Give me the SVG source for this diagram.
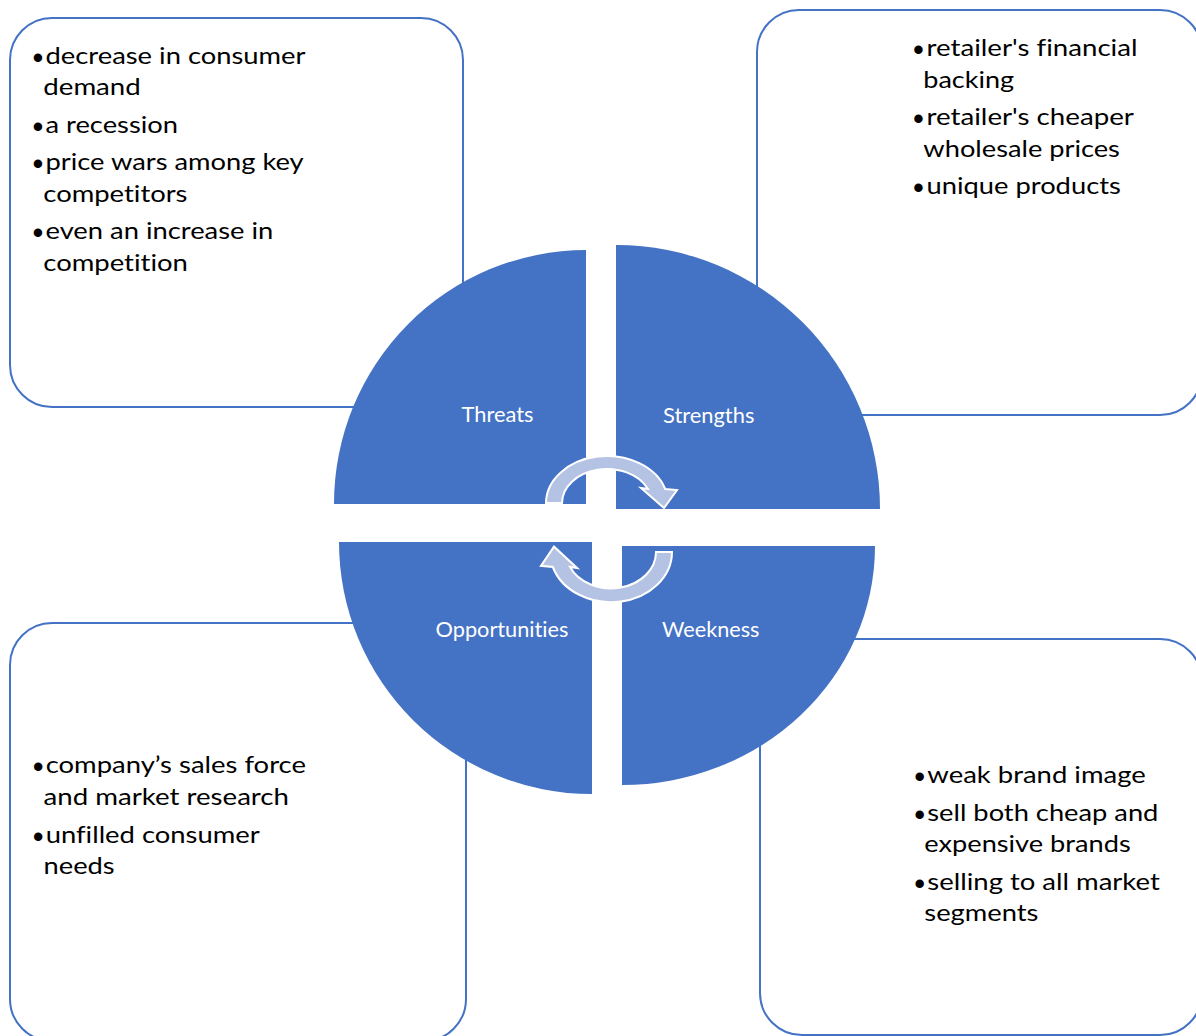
<svg xmlns="http://www.w3.org/2000/svg" width="1196" height="1036" viewBox="0 0 1196 1036">
  <style>
    .box { fill: #ffffff; stroke: #4472C4; stroke-width: 2; }
    .pie { fill: #4472C4; }
    .label { font-family: Lato, "Open Sans", sans-serif; font-size: 20.5px; fill: #ffffff; font-variant-ligatures: none; }
    .item { font-family: Lato, "Open Sans", sans-serif; font-size: 24px; fill: #000000; font-variant-ligatures: none; }
    .dot { font-family: "Liberation Sans", Arial, sans-serif; font-size: 31px; fill: #000000; text-anchor: middle; }
    .cycle { fill: #B4C2E3; stroke: #ffffff; stroke-width: 2; stroke-linejoin: miter; }
  </style>
  <defs>
    <!-- half-ring arrow, centred on its own ellipse -->
    <path id="cycle-arrow" d="M -61 0 A 61 47 0 0 1 58.2 -14 L 70 -13 L 57 5 L 34 -15 L 41 -14 A 45 34 0 0 0 -45 0 Z"/>
  </defs>

  <!-- detail panels -->
  <g id="box-threats">
    <rect class="box" x="10" y="18" width="453" height="389" rx="42"/>
    <text class="dot" x="38" y="67.5">•</text>
    <text class="item" x="45.5" y="63.5" textLength="260" lengthAdjust="spacingAndGlyphs">decrease in consumer</text>
    <text class="item" x="43.3" y="95" textLength="97.5" lengthAdjust="spacingAndGlyphs">demand</text>
    <text class="dot" x="38" y="136.5">•</text>
    <text class="item" x="45.5" y="132.5" textLength="132.5" lengthAdjust="spacingAndGlyphs">a recession</text>
    <text class="dot" x="38" y="174">•</text>
    <text class="item" x="45.5" y="170" textLength="258.2" lengthAdjust="spacingAndGlyphs">price wars among key</text>
    <text class="item" x="43.3" y="201.5" textLength="144.2" lengthAdjust="spacingAndGlyphs">competitors</text>
    <text class="dot" x="38" y="243">•</text>
    <text class="item" x="45.5" y="239" textLength="227.8" lengthAdjust="spacingAndGlyphs">even an increase in</text>
    <text class="item" x="43.3" y="270.5" textLength="144.6" lengthAdjust="spacingAndGlyphs">competition</text>
  </g>

  <g id="box-strengths">
    <rect class="box" x="757" y="10" width="445" height="405" rx="42"/>
    <text class="dot" x="918.5" y="60">•</text>
    <text class="item" x="926.5" y="56" textLength="211" lengthAdjust="spacingAndGlyphs">retailer's financial</text>
    <text class="item" x="923.3" y="87.5" textLength="90.7" lengthAdjust="spacingAndGlyphs">backing</text>
    <text class="dot" x="918.5" y="129">•</text>
    <text class="item" x="926.5" y="125" textLength="207.4" lengthAdjust="spacingAndGlyphs">retailer's cheaper</text>
    <text class="item" x="923.3" y="156.5" textLength="196.6" lengthAdjust="spacingAndGlyphs">wholesale prices</text>
    <text class="dot" x="918.5" y="198">•</text>
    <text class="item" x="926.5" y="194" textLength="194.3" lengthAdjust="spacingAndGlyphs">unique products</text>
  </g>

  <g id="box-opportunities">
    <rect class="box" x="10" y="623" width="456" height="418" rx="42"/>
    <text class="dot" x="38.2" y="777.3">•</text>
    <text class="item" x="45.7" y="773.3" textLength="260.3" lengthAdjust="spacingAndGlyphs">company’s sales force</text>
    <text class="item" x="43.5" y="804.5" textLength="245.5" lengthAdjust="spacingAndGlyphs">and market research</text>
    <text class="dot" x="38.2" y="846.7">•</text>
    <text class="item" x="45.7" y="842.7" textLength="214" lengthAdjust="spacingAndGlyphs">unfilled consumer</text>
    <text class="item" x="43.5" y="874.3" textLength="71.2" lengthAdjust="spacingAndGlyphs">needs</text>
  </g>

  <g id="box-weakness">
    <rect class="box" x="760" y="639" width="442" height="396" rx="42"/>
    <text class="dot" x="919.8" y="787.3">•</text>
    <text class="item" x="927.3" y="783.3" textLength="218.4" lengthAdjust="spacingAndGlyphs">weak brand image</text>
    <text class="dot" x="919.8" y="824.7">•</text>
    <text class="item" x="927.3" y="820.7" textLength="231.1" lengthAdjust="spacingAndGlyphs">sell both cheap and</text>
    <text class="item" x="924.3" y="851.7" textLength="206.4" lengthAdjust="spacingAndGlyphs">expensive brands</text>
    <text class="dot" x="919.8" y="894">•</text>
    <text class="item" x="927.3" y="890" textLength="232.5" lengthAdjust="spacingAndGlyphs">selling to all market</text>
    <text class="item" x="924.3" y="921" textLength="114.1" lengthAdjust="spacingAndGlyphs">segments</text>
  </g>

  <!-- quadrant wedges -->
  <g id="node-threats">
    <path class="pie" d="M 586 504 L 334 504 A 252 254 0 0 1 586 250 Z"/>
    <text class="label" x="461.5" y="421.5" textLength="72" lengthAdjust="spacingAndGlyphs">Threats</text>
  </g>
  <g id="node-strengths">
    <path class="pie" d="M 616 509 L 616 245 A 264 264 0 0 1 880 509 Z"/>
    <text class="label" x="663" y="423" textLength="91.4" lengthAdjust="spacingAndGlyphs">Strengths</text>
  </g>
  <g id="node-weekness">
    <path class="pie" d="M 622 546 L 875 546 A 253 239 0 0 1 622 785 Z"/>
    <text class="label" x="662" y="637" textLength="97.5" lengthAdjust="spacingAndGlyphs">Weekness</text>
  </g>
  <g id="node-opportunities">
    <path class="pie" d="M 592 542 L 592 794 A 253 252 0 0 1 339 542 Z"/>
    <text class="label" x="435.5" y="637.3" textLength="133" lengthAdjust="spacingAndGlyphs">Opportunities</text>
  </g>

  <!-- cycle arrows -->
  <g id="connectors">
    <use class="cycle" href="#cycle-arrow" transform="translate(607 503)"/>
    <use class="cycle" href="#cycle-arrow" transform="translate(611 552) rotate(180) scale(1 1.07)"/>
  </g>
</svg>
